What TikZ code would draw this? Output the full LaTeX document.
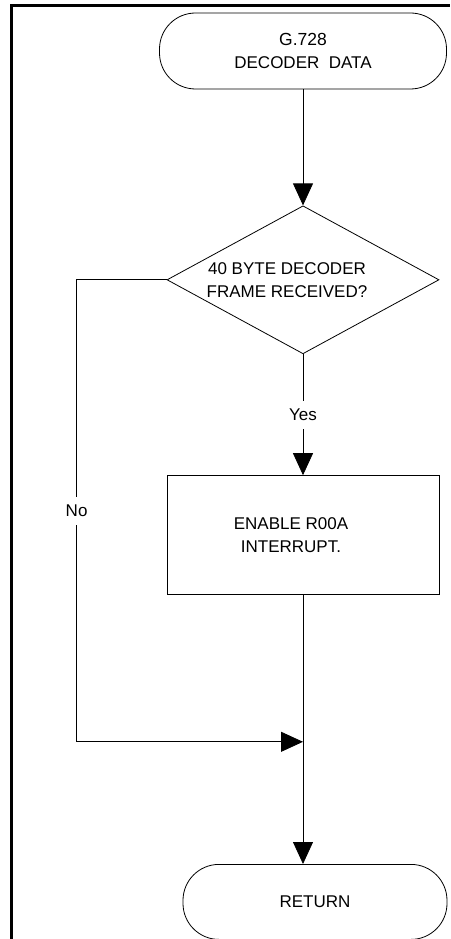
\documentclass[tikz,border=0pt]{standalone}
\usepackage{fontspec}
\setmainfont{Liberation Sans}
\usetikzlibrary{positioning,shapes.geometric,arrows.meta}

\begin{document}
\begin{tikzpicture}[x=1pt,y=1pt,
  font=\fontsize{17}{23}\selectfont,
  line width=0.8pt,
  node distance=116pt,
  term/.style={draw,rounded corners=36pt,align=center,minimum height=76pt},
  decide/.style={draw,diamond,aspect=1.84,inner sep=0pt,align=center,
    minimum width=272pt,minimum height=148pt},
  procbox/.style={draw,align=center,minimum width=272pt,minimum height=119pt},
  flow/.style={-{Triangle[width=20pt,length=22pt]}},
  branch/.style={fill=white,inner xsep=2pt,inner ysep=8pt},
  frame/.style={line width=3pt}]
\useasboundingbox (0,0) rectangle (450,-939);
% frame round the chart
\draw[frame] (11,-939) -- (11,-6) -- (450,-6);
\node (start) [term,minimum width=287pt] at (303,-51)
  {\fontsize{17.5}{23}\selectfont G.728\\DECODER\ \ DATA};
\node (frame-ok) [decide,below=of start]
  {40 BYTE DECODER\hspace*{32pt}\\FRAME RECEIVED?\hspace*{32pt}};
\node (enable) [procbox,below=121pt of frame-ok]
  {ENABLE R00A\hspace*{24pt}\\INTERRUPT.\hspace*{24pt}};
\node (return) [term,minimum width=264pt,minimum height=75pt,
  below=269pt of enable,xshift=12pt] {RETURN};
\coordinate [left=90pt of frame-ok.west] (no-top);
\coordinate [below=462pt of no-top] (no-bot);
\coordinate (join) at (enable.south |- no-bot);
\draw[flow] (start) -- (frame-ok);
\draw[flow] (frame-ok) -- node[branch] {Yes} (enable);
\draw (frame-ok.west) -- (no-top) -- node[branch] {No} (no-bot);
\draw[flow] (no-bot) -- (join);
\draw (enable) -- (join);
\draw[flow] (join) -- (join |- return.north);
\end{tikzpicture}
\end{document}
